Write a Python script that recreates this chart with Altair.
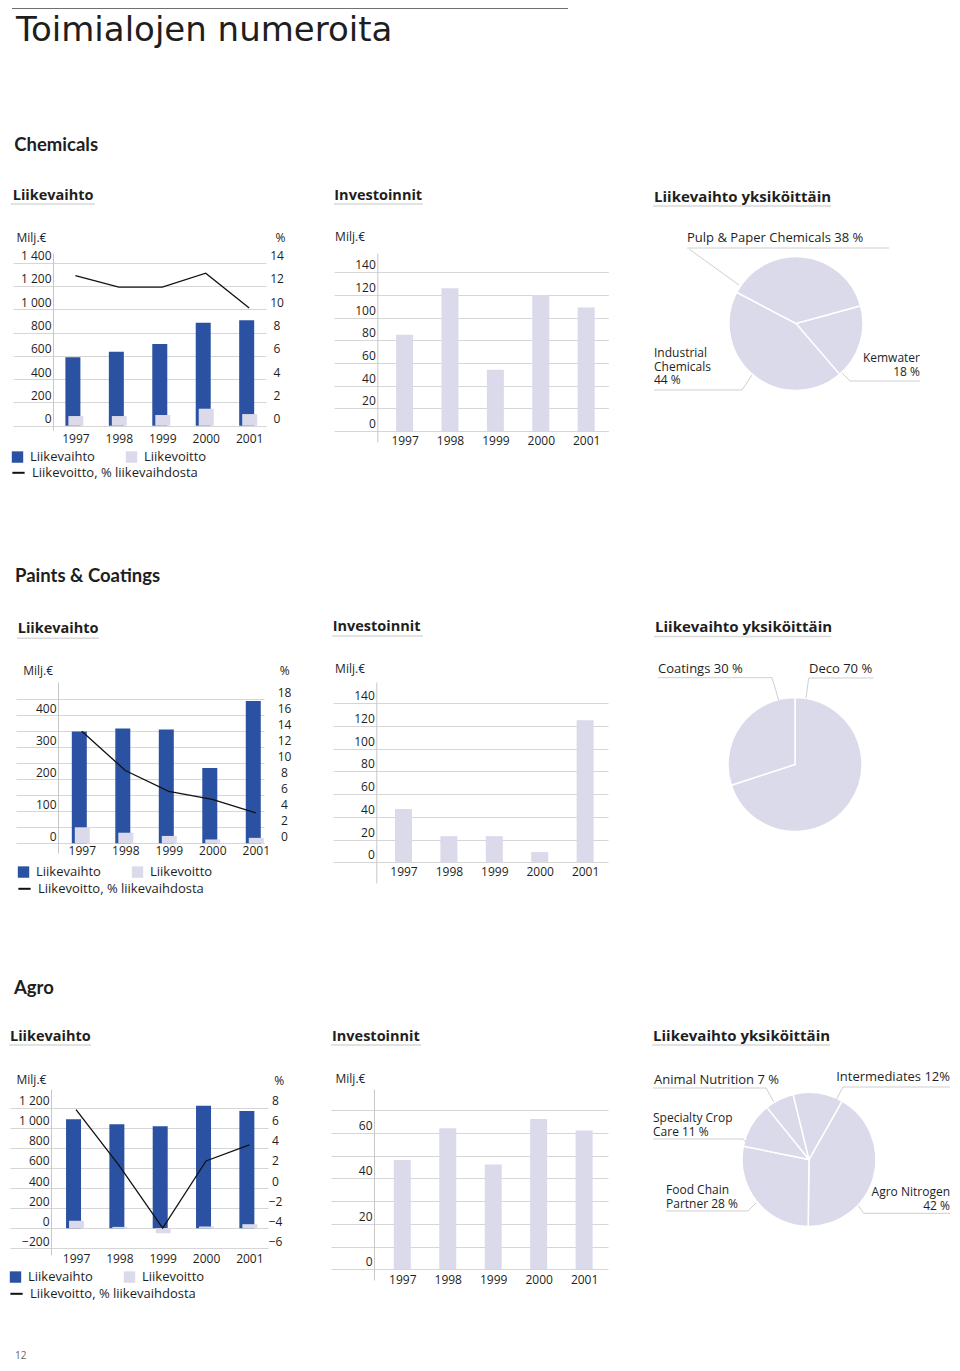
import math
import altair as alt
import pandas as pd

# ---------------- data ----------------
YEARS = [1997, 1998, 1999, 2000, 2001]
BAR_SERIES = ["Liikevaihto", "Liikevoitto"]
LINE_SERIES = ["Liikevoitto, % liikevaihdosta"]

CHEM_SALES = [587, 636, 701, 885, 905]
CHEM_PROFIT = [83, 83, 92, 146, 100]
CHEM_MARGIN = [12.9, 11.9, 11.9, 13.1, 10.1]
CHEM_INVEST = [85, 126, 54, 120, 109]
CHEM_UNITS = ["Kemwater", "Industrial Chemicals", "Pulp & Paper Chemicals"]
CHEM_SHARES = [18, 44, 38]

PAINT_SALES = [349, 359, 356, 235, 445]
PAINT_PROFIT = [50, 33, 23, 12, 17]
PAINT_MARGIN = [14.0, 9.1, 6.5, 5.5, 3.8]
PAINT_INVEST = [47, 23, 23, 9, 125]
PAINT_UNITS = ["Deco", "Coatings"]
PAINT_SHARES = [70, 30]

AGRO_SALES = [1086, 1035, 1015, 1220, 1166]
AGRO_PROFIT = [74, 13, -50, 17, 40]
AGRO_MARGIN = [7.8, 2.2, -4.0, 2.7, 4.3]
AGRO_INVEST = [48, 62, 46, 66, 61]
AGRO_UNITS = ["Agro Nitrogen", "Food Chain Partner", "Specialty Crop Care",
              "Animal Nutrition", "Intermediates"]
AGRO_SHARES = [42, 28, 11, 7, 12]

CHEM_TICKS_L = [0, 200, 400, 600, 800, 1000, 1200, 1400]
CHEM_TICKS_R = [0, 2, 4, 6, 8, 10, 12, 14]
PAINT_TICKS_L = [0, 100, 200, 300, 400]
PAINT_TICKS_R = [0, 2, 4, 6, 8, 10, 12, 14, 16, 18]
AGRO_TICKS_L = [-200, 0, 200, 400, 600, 800, 1000, 1200]
AGRO_TICKS_R = [-6, -4, -2, 0, 2, 4, 6, 8]
INV_TICKS = [0, 20, 40, 60, 80, 100, 120, 140]
AGRO_INV_TICKS = [0, 10, 20, 30, 40, 50, 60, 70]

# ---------------- style ----------------
BLUE = "#2b52a2"
LAV = "#dadaeb"
LINE = "#111111"
GRID = "#d6d6d6"
DOMAIN = "#c8c8c8"
LEAD = "#cfcfcf"
TXT = "#1e1e1e"
BODY = "Open Sans"
HEAD = "Open Sans"
SECT = "Lato"
TITLEF = "DejaVu Sans"
ONE = pd.DataFrame({"k": [0]})
THOUSANDS = "replace(format(datum.value, ','), ',', ' ')"
INDEP = dict(color="independent", stroke="independent")


def text(x, y, s, size=13, weight="normal", align="left", font=BODY, color=TXT, lh=13.5):
    return alt.Chart(ONE).mark_text(
        align=align, baseline="alphabetic", font=font, fontSize=size,
        fontWeight=weight, color=color, lineHeight=lh
    ).encode(x=alt.value(x), y=alt.value(y), text=alt.value(s))


def seg(x1, y1, x2, y2, color=LEAD, w=1):
    return alt.Chart(ONE).mark_rule(color=color, strokeWidth=w).encode(
        x=alt.value(x1), y=alt.value(y1), x2=alt.value(x2), y2=alt.value(y2))


def frame(top, bottom):
    # invisible box that fixes the vertical extent of a row
    return alt.Chart(ONE).mark_rect(opacity=0).encode(
        x=alt.value(0), x2=alt.value(1), y=alt.value(top), y2=alt.value(bottom))


def header(x, y, s, ux1, ux2, uy, size=14.5):
    return [seg(ux1, uy, ux2, uy, color="#d9d9d9", w=1.5),
            text(x, y, s, size=size, weight="bold", font=HEAD)]


def spacer(w, top=0, bottom=1):
    return frame(top, bottom).properties(width=w, height=1)


def xscale(dom):
    return alt.Scale(domain=dom, nice=False, zero=False, padding=0)


def yscale(dom):
    return alt.Scale(domain=dom, nice=False, zero=False, padding=0)


def xaxis(off):
    return alt.Axis(values=YEARS, format="d", grid=False, ticks=False, domain=False,
                    labelPadding=0, labelBaseline="middle", offset=off, labelFlush=False,
                    labelOverlap=False, title=None, labelFont=BODY, labelFontSize=12,
                    labelColor=TXT)


def legend_common(x, y, **kw):
    return alt.Legend(title=None, orient="none", legendX=x, legendY=y, padding=0,
                      labelOffset=6, labelFont=BODY, labelFontSize=13, labelColor=TXT,
                      labelLimit=300, symbolOffset=0, **kw)


def combo(sales, profit, margin, w, h, xdom, ydom, yvals, pdom, pvals, yoff, xoff,
          rpad, ytitle, ptitle, lx, ly1, ly2):
    bars = pd.DataFrame({"Vuosi": YEARS + YEARS,
                         "Sarja": [BAR_SERIES[0]] * 5 + [BAR_SERIES[1]] * 5,
                         "Arvo": sales + profit})
    pct = pd.DataFrame({"Vuosi": YEARS, "Mittari": LINE_SERIES * 5, "Prosentti": margin})
    X = alt.X("Vuosi:Q", scale=xscale(xdom), axis=xaxis(xoff))
    yax = alt.Axis(values=yvals, labelExpr=THOUSANDS, grid=False, ticks=False, domain=True,
                   domainColor=DOMAIN, offset=yoff, labelPadding=2, labelBaseline="alphabetic",
                   labelOffset=-3, labelFont=BODY, labelFontSize=12, labelColor=TXT,
                   title="Milj.€", titleX=ytitle[0], titleY=ytitle[1], titleAngle=0,
                   titleAlign="left", titleBaseline="middle", titleFont=BODY,
                   titleFontSize=12, titleFontWeight="normal", titleColor=TXT)
    Y = alt.Y("Arvo:Q", scale=yscale(ydom), axis=yax)
    color = alt.Color(
        "Sarja:N", scale=alt.Scale(domain=BAR_SERIES, range=[BLUE, LAV]),
        legend=legend_common(lx, ly1, direction="horizontal", columnPadding=30,
                             symbolType="square", symbolSize=130, symbolStrokeWidth=0))
    base = alt.Chart(bars)
    dark = base.transform_filter(alt.datum.Sarja == BAR_SERIES[0]).mark_bar(
        width=15, xOffset=-2.5).encode(x=X, y=Y, y2=alt.datum(0), color=color)
    light = base.transform_filter(alt.datum.Sarja == BAR_SERIES[1]).mark_bar(
        width=15, xOffset=0.5).encode(x=X, y=Y, y2=alt.datum(0), color=color)
    pax = alt.Axis(orient="right", values=pvals, grid=True, gridColor=GRID, ticks=False,
                   domain=False, labelPadding=rpad, labelAlign="center",
                   labelBaseline="alphabetic", labelOffset=-3, labelFont=BODY,
                   labelFontSize=12, labelColor=TXT, title="%", titleX=ptitle[0],
                   titleY=ptitle[1], titleAngle=0, titleAlign="center",
                   titleBaseline="middle", titleFont=BODY, titleFontSize=12,
                   titleFontWeight="normal", titleColor=TXT)
    line = alt.Chart(pct).mark_line(strokeWidth=1.3).encode(
        x=X, y=alt.Y("Prosentti:Q", scale=yscale(pdom), axis=pax),
        stroke=alt.Stroke("Mittari:N", scale=alt.Scale(domain=LINE_SERIES, range=[LINE]),
                          legend=legend_common(lx, ly2, symbolType="stroke", symbolSize=150,
                                               symbolStrokeWidth=2, symbolStrokeColor=LINE)))
    bars_layer = alt.layer(dark, light)
    return alt.layer(bars_layer, line).resolve_scale(y="independent").properties(width=w, height=h)


def invest(vals, w, h, xdom, ydom, gvals, every, yoff, xoff, ytitle):
    df = pd.DataFrame({"Vuosi": YEARS, "Investoinnit": vals})
    yax = alt.Axis(values=gvals, labelExpr=f"datum.value % {every} == 0 ? datum.label : ''",
                   grid=True, gridColor=GRID, ticks=False, domain=True, domainColor=DOMAIN,
                   offset=yoff, labelPadding=2, labelBaseline="alphabetic", labelOffset=-3.5,
                   labelFont=BODY, labelFontSize=12, labelColor=TXT,
                   title="Milj.€", titleX=ytitle[0], titleY=ytitle[1], titleAngle=0,
                   titleAlign="left", titleBaseline="middle", titleFont=BODY,
                   titleFontSize=12, titleFontWeight="normal", titleColor=TXT)
    return alt.Chart(df).mark_bar(width=17, color=LAV).encode(
        x=alt.X("Vuosi:Q", scale=xscale(xdom), axis=xaxis(xoff)),
        y=alt.Y("Investoinnit:Q", scale=yscale(ydom), axis=yax),
        y2=alt.datum(0),
    ).properties(width=w, height=h)


def pie(units, shares, start_deg, w, h, notes):
    df = pd.DataFrame({"Yksikko": units, "Osuus": shares, "Jarjestys": list(range(len(units)))})
    s = math.radians(start_deg)
    arc = alt.Chart(df).mark_arc(outerRadius=67, color=LAV, stroke="white", strokeWidth=1.5).encode(
        theta=alt.Theta("Osuus:Q", stack=True, scale=alt.Scale(range=[s, s + 2 * math.pi])),
        order=alt.Order("Jarjestys:Q"))
    return alt.layer(arc, *notes).properties(width=w, height=h)


ML = 12  # font size of the stacked (multi-line) pie labels

# ---------------- pies ----------------
chem_notes = [
    seg(-15, -5, 187, -5), seg(-13, -4, 37, 32),
    text(-15, -10.7, f"{CHEM_UNITS[2]} {CHEM_SHARES[2]} %"),
    seg(148, 128, 218, 128), seg(140, 120, 148, 128),
    text(218, 109.3, ["Kemwater", f"{CHEM_SHARES[0]} %"], size=ML, align="right", lh=13.5),
    seg(-48, 137, 40, 137), seg(40, 137, 50, 122),
    text(-48, 104.3, ["Industrial", "Chemicals", f"{CHEM_SHARES[1]} %"], size=ML, lh=13.5),
]
paint_notes = [
    seg(-44, -4.3, 70, -4.3), seg(70, -4.3, 76.7, 18),
    text(-44, -8.7, f"{PAINT_UNITS[1]} {PAINT_SHARES[1]} %"),
    seg(106.7, -4, 171.7, -4), seg(106.7, -4, 104, 16),
    text(107, -8.7, f"{PAINT_UNITS[0]} {PAINT_SHARES[0]} %"),
]
agro_notes = [
    seg(-48, -1, 65, -1), seg(65, -1, 72.7, 12.7),
    text(-47, -4.7, f"{AGRO_UNITS[3]} {AGRO_SHARES[3]} %"),
    seg(142, -2, 249, -2), seg(142, -2, 135, 11),
    text(249, -7.7, f"{AGRO_UNITS[4]} {AGRO_SHARES[4]}%", align="right"),
    seg(-48, 50, 42, 50), seg(42, 50, 45, 53),
    text(-48, 33.3, ["Specialty Crop", f"Care {AGRO_SHARES[2]} %"], size=ML, lh=13.5),
    seg(-35, 122, 47, 122), seg(47, 122, 55, 114),
    text(-35, 105.3, ["Food Chain", f"Partner {AGRO_SHARES[1]} %"], size=ML, lh=14),
    seg(162.7, 124.3, 249, 124.3), seg(162.7, 124.3, 157.3, 116.7),
    text(249, 107.3, ["Agro Nitrogen", f"{AGRO_SHARES[0]} %"], size=ML, align="right", lh=14),
]

# ---------------- text blocks ----------------
block1 = alt.layer(
    frame(0, 217),
    seg(3, 0.5, 559, 0.5, color="#707070", w=1),
    text(7, 32.7, "Toimialojen numeroita", size=34, font=TITLEF),
    text(5.3, 143, "Chemicals", size=18.5, weight="bold", font=SECT),
    *header(3.7, 192, "Liikevaihto", 2, 86, 196),
    *header(325.3, 192, "Investoinnit", 325, 414, 196),
    *header(645, 194, "Liikevaihto yksiköittäin", 644, 822, 198, size=15),
).properties(width=930, height=217)

block2 = alt.layer(
    frame(0, 155),
    text(6, 81.7, "Paints & Coatings", size=18.5, weight="bold", font=SECT),
    *header(8.7, 133.3, "Liikevaihto", 8, 90, 138.3),
    *header(323.7, 131, "Investoinnit", 323, 414, 136),
    *header(646, 132, "Liikevaihto yksiköittäin", 645, 822, 136.5, size=15),
).properties(width=930, height=155)

block3 = alt.layer(
    frame(0, 152),
    text(5, 83.5, "Agro", size=18.5, weight="bold", font=SECT),
    *header(1, 131, "Liikevaihto", 0, 82, 135),
    *header(323, 131, "Investoinnit", 322, 412, 135),
    *header(644, 131, "Liikevaihto yksiköittäin", 643, 821, 135, size=15),
).properties(width=930, height=152)

footer = alt.layer(
    frame(0, 48),
    text(6, 49, "12", size=10, color="#666666"),
).properties(width=930, height=48)

# ---------------- chart rows ----------------
row1 = alt.hconcat(
    spacer(4, -28, 247),
    combo(CHEM_SALES, CHEM_PROFIT, CHEM_MARGIN, 253, 177, [1995.564, 2001.387],
          [-36.9, 1483.3], CHEM_TICKS_L, [-0.369, 14.833], CHEM_TICKS_R, -40, 8, 10.5,
          (-37, -16), (14, -16), -2, 197.3, 212.3),
    spacer(67.7),
    invest(CHEM_INVEST, 274.3, 189, [1995.445, 2001.487], [-9.70, 157.03], INV_TICKS, 20,
           -43.3, -2, (-42.7, -16.3)),
    spacer(93),
    pie(CHEM_UNITS, CHEM_SHARES, 74.6, 188, 141, chem_notes),
    spacing=0, bounds="flush").resolve_scale(**INDEP).resolve_legend(**INDEP)

row2 = alt.hconcat(
    spacer(7, -27, 228),
    combo(PAINT_SALES, PAINT_PROFIT, PAINT_MARGIN, 248, 171, [1995.487, 2001.189],
          [-30.31, 504.06], PAINT_TICKS_L, [-1.2125, 20.1625], PAINT_TICKS_R, -42, -3, 20,
          (-35.3, -11.3), (20.3, -11.3), 1, 183.3, 199.3),
    spacer(68.7),
    invest(PAINT_INVEST, 275, 201, [1995.447, 2001.504], [-18.23, 158.75], INV_TICKS, 20,
           -43.3, -12, (-41.7, -13.7)),
    spacer(93.3),
    pie(PAINT_UNITS, PAINT_SHARES, 0, 186, 165, paint_notes),
    spacing=0, bounds="flush").resolve_scale(**INDEP).resolve_legend(**INDEP)

row3 = alt.hconcat(
    spacer(1, -27, 221),
    combo(AGRO_SALES, AGRO_PROFIT, AGRO_MARGIN, 258, 166, [1995.476, 2001.430],
          [-266.9, 1386.2], AGRO_TICKS_L, [-6.669, 9.862], AGRO_TICKS_R, -41, 3, 7,
          (-35, -10), (10.7, -9), -1, 181.3, 197.3),
    spacer(63),
    invest(AGRO_INVEST, 277, 191, [1995.431, 2001.526], [-4.70, 79.23], AGRO_INV_TICKS, 20,
           -43, -0.5, (-39, -10.7)),
    spacer(93),
    pie(AGRO_UNITS, AGRO_SHARES, 29.5, 216, 141, agro_notes),
    spacing=0, bounds="flush").resolve_scale(**INDEP).resolve_legend(**INDEP)

chart = alt.VConcatChart(
    vconcat=[block1, row1, block2, row2, block3, row3, footer],
    spacing=0, padding=0, background="white",
).resolve_scale(**INDEP).resolve_legend(**INDEP).configure_view(strokeWidth=0)

chart.save("out.html", embed_options={"renderer": "svg", "actions": False})
